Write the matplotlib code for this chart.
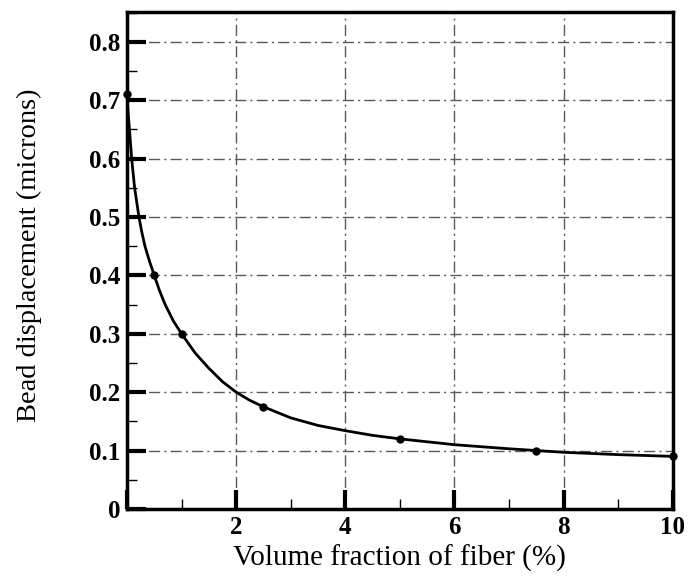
import numpy as np
import matplotlib
matplotlib.use("Agg")
import matplotlib.pyplot as plt
from matplotlib.ticker import MultipleLocator, FuncFormatter

# measured points
vol_frac = [0.0, 0.5, 1.0, 2.5, 5.0, 7.5, 10.0]
bead_disp = [0.71, 0.40, 0.30, 0.175, 0.12, 0.10, 0.09]

# fitted curve
curve_x = [0.0, 0.02, 0.05, 0.086, 0.14, 0.22, 0.27, 0.33, 0.41, 0.5, 0.6,
           0.7, 0.85, 1.0, 1.25, 1.5, 1.75, 2.0, 2.25, 2.5, 3.0, 3.5, 4.0,
           4.5, 5.0, 6.0, 7.0, 7.5, 8.0, 9.0, 10.0]
curve_y = [0.71, 0.68, 0.645, 0.60, 0.55, 0.50, 0.475, 0.45, 0.425, 0.40,
           0.373, 0.35, 0.322, 0.30, 0.267, 0.241, 0.218, 0.20, 0.186,
           0.175, 0.156, 0.143, 0.134, 0.126, 0.12, 0.11, 0.103, 0.10,
           0.097, 0.093, 0.09]

plt.rcParams["font.family"] = ["Liberation Serif", "DejaVu Serif"]

fig = plt.figure(figsize=(6.9, 5.77), dpi=100)
ax = fig.add_axes([0.184, 0.118, 0.791, 0.861])

ax.plot(curve_x, curve_y, "-", color="black", lw=2.0, zorder=3,
        clip_on=False, solid_joinstyle="round")
ax.plot(vol_frac, bead_disp, "o", color="black", ms=5, zorder=4,
        clip_on=False)

ax.set_xlim(0, 10)
ax.set_ylim(0, 0.851)
ax.xaxis.set_major_locator(MultipleLocator(2))
ax.xaxis.set_minor_locator(MultipleLocator(1))
ax.yaxis.set_major_locator(MultipleLocator(0.1))
ax.yaxis.set_minor_locator(MultipleLocator(0.05))
ax.xaxis.set_major_formatter(
    FuncFormatter(lambda v, p: "" if abs(v) < 1e-9 else f"{v:g}"))
ax.yaxis.set_major_formatter(
    FuncFormatter(lambda v, p: "0" if abs(v) < 1e-9 else f"{v:.1f}"))

ax.grid(True, which="major", color="0.35", lw=1.0,
        linestyle=(0, (8, 3, 1.5, 3)))
ax.tick_params(which="major", direction="in", length=14, width=3,
               labelsize=18, pad=5)
ax.tick_params(which="minor", direction="in", length=7, width=1)
for lab in ax.get_xticklabels() + ax.get_yticklabels():
    lab.set_fontweight("bold")
for sp in ax.spines.values():
    sp.set_linewidth(2.5)

ax.set_xlabel("Volume fraction of fiber (%)", fontsize=21, labelpad=4)
ax.set_ylabel("Bead displacement (microns)", fontsize=20.5)
ax.yaxis.set_label_coords(-0.156, 0.51)

fig.savefig("out.png", dpi=100)
